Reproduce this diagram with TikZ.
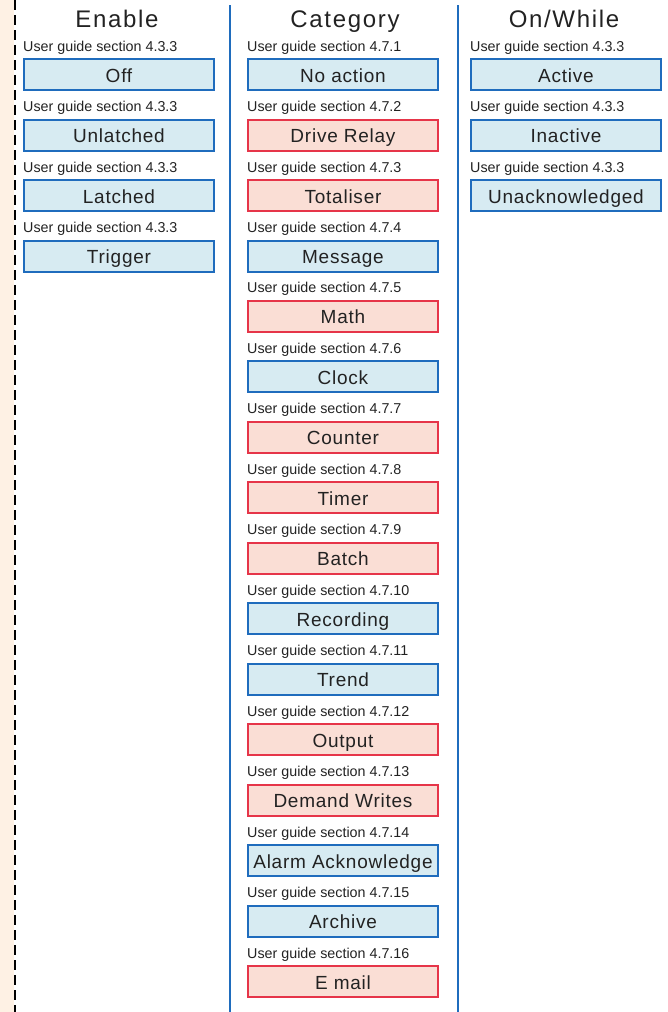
\documentclass[tikz,border=0pt]{standalone}
\usepackage{fontspec}
\setmainfont{Liberation Sans}
\newfontfamily\spacedfont[LetterSpace=4]{Liberation Sans}
\newfontfamily\titlefont[LetterSpace=7]{Liberation Sans}
\definecolor{boxblue}{HTML}{D7EBF2}
\definecolor{lineblue}{HTML}{1F6CBD}
\definecolor{boxred}{HTML}{FADED5}
\definecolor{linered}{HTML}{E63549}
\definecolor{sidebeige}{HTML}{FEF1E4}
\definecolor{inkgray}{HTML}{222222}
\tikzset{
  heading/.style={text=inkgray, font=\titlefont\fontsize{24}{28}\selectfont, inner sep=0pt, anchor=base},
  section/.style={text=inkgray, font=\fontsize{14.3}{17}\selectfont, inner sep=0pt, anchor=base west},
  bluebox/.style={draw=lineblue, fill=boxblue, line width=2pt, minimum width=190pt, minimum height=31pt,
    inner sep=0pt, text height=18pt, text depth=3pt, text=inkgray, font=\spacedfont\fontsize{19}{21}\selectfont},
  redbox/.style={bluebox, draw=linered, fill=boxred},
}
\begin{document}
\begin{tikzpicture}[x=1pt, y=-1pt]
    \useasboundingbox (0,0) rectangle (668,1012);
    % side strip and column rules
    \fill[sidebeige] (0,0) rectangle (14,1012);
    \draw[line width=2.5pt, dash pattern=on 10pt off 5pt] (15,0) -- (15,1012);
    \coordinate (ruleatop) at (230,5);
    \coordinate (ruleabot) at (230,1012);
    \coordinate (rulebtop) at (458,5);
    \coordinate (rulebbot) at (458,1012);
    \draw[lineblue, line width=2pt] (ruleatop) -- (ruleabot);
    \draw[lineblue, line width=2pt] (rulebtop) -- (rulebbot);
    \node (enable) at (117,27) [heading] {Enable};
    \node (category) at (345,27) [heading] {Category};
    \node (onwhile) at (564,27) [heading] {On/While};
    % Enable column
    \node (off) at (119,74.5) [bluebox] {Off};
    \node (unlatched) at (119,135) [bluebox] {Unlatched};
    \node (latched) at (119,195.5) [bluebox] {Latched};
    \node (trigger) at (119,256) [bluebox] {Trigger};
    \node (offsec) at ([yshift=7pt]off.north west) [section] {User guide section 4.3.3};
    \node (unlatchedsec) at ([yshift=7pt]unlatched.north west) [section] {User guide section 4.3.3};
    \node (latchedsec) at ([yshift=7pt]latched.north west) [section] {User guide section 4.3.3};
    \node (triggersec) at ([yshift=7pt]trigger.north west) [section] {User guide section 4.3.3};
    % Category column
    \node (noaction) at (343,74.5) [bluebox] {No action};
    \node (relay) at (343,135) [redbox] {Drive Relay};
    \node (totaliser) at (343,195.5) [redbox] {Totaliser};
    \node (message) at (343,256) [bluebox] {Message};
    \node (math) at (343,316.4) [redbox] {Math};
    \node (clock) at (343,376.9) [bluebox] {Clock};
    \node (counter) at (343,437.3) [redbox] {Counter};
    \node (timer) at (343,497.8) [redbox] {Timer};
    \node (batch) at (343,558.3) [redbox] {Batch};
    \node (recording) at (343,618.7) [bluebox] {Recording};
    \node (trend) at (343,679.2) [bluebox] {Trend};
    \node (output) at (343,739.7) [redbox] {Output};
    \node (demand) at (343,800.1) [redbox] {Demand Writes};
    \node (alarmack) at (343,860.6) [bluebox] {Alarm Acknowledge};
    \node (archive) at (343,921.1) [bluebox] {Archive};
    \node (email) at (343,981.5) [redbox] {E mail};
    \node (noactionsec) at ([yshift=7pt]noaction.north west) [section] {User guide section 4.7.1};
    \node (relaysec) at ([yshift=7pt]relay.north west) [section] {User guide section 4.7.2};
    \node (totalisersec) at ([yshift=7pt]totaliser.north west) [section] {User guide section 4.7.3};
    \node (messagesec) at ([yshift=7pt]message.north west) [section] {User guide section 4.7.4};
    \node (mathsec) at ([yshift=7pt]math.north west) [section] {User guide section 4.7.5};
    \node (clocksec) at ([yshift=7pt]clock.north west) [section] {User guide section 4.7.6};
    \node (countersec) at ([yshift=7pt]counter.north west) [section] {User guide section 4.7.7};
    \node (timersec) at ([yshift=7pt]timer.north west) [section] {User guide section 4.7.8};
    \node (batchsec) at ([yshift=7pt]batch.north west) [section] {User guide section 4.7.9};
    \node (recordingsec) at ([yshift=7pt]recording.north west) [section] {User guide section 4.7.10};
    \node (trendsec) at ([yshift=7pt]trend.north west) [section] {User guide section 4.7.11};
    \node (outputsec) at ([yshift=7pt]output.north west) [section] {User guide section 4.7.12};
    \node (demandsec) at ([yshift=7pt]demand.north west) [section] {User guide section 4.7.13};
    \node (alarmacksec) at ([yshift=7pt]alarmack.north west) [section] {User guide section 4.7.14};
    \node (archivesec) at ([yshift=7pt]archive.north west) [section] {User guide section 4.7.15};
    \node (emailsec) at ([yshift=7pt]email.north west) [section] {User guide section 4.7.16};
    % On/While column
    \node (active) at (566,74.5) [bluebox] {Active};
    \node (inactive) at (566,135) [bluebox] {Inactive};
    \node (unack) at (566,195.5) [bluebox] {Unacknowledged};
    \node (activesec) at ([yshift=7pt]active.north west) [section] {User guide section 4.3.3};
    \node (inactivesec) at ([yshift=7pt]inactive.north west) [section] {User guide section 4.3.3};
    \node (unacksec) at ([yshift=7pt]unack.north west) [section] {User guide section 4.3.3};
\end{tikzpicture}
\end{document}
